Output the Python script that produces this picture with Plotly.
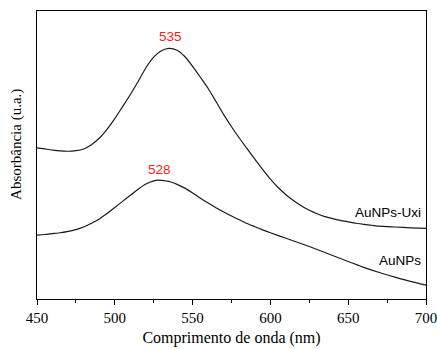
import plotly.graph_objects as go

wavelength = [450, 455, 460, 465, 470, 475, 480, 485, 490, 495, 500, 505, 510, 515, 520, 525,
              530, 535, 540, 545, 550, 555, 560, 565, 570, 575, 580, 585, 590, 595, 600, 605,
              610, 615, 620, 625, 630, 635, 640, 645, 650, 655, 660, 665, 670, 675, 680, 690, 700]
abs_uxi = [0.525, 0.521, 0.517, 0.514, 0.513, 0.515, 0.521, 0.536, 0.558, 0.589, 0.626, 0.668,
           0.710, 0.755, 0.803, 0.840, 0.862, 0.870, 0.864, 0.842, 0.808, 0.770, 0.731, 0.686,
           0.640, 0.598, 0.559, 0.522, 0.486, 0.450, 0.416, 0.387, 0.362, 0.341, 0.323, 0.308,
           0.296, 0.286, 0.279, 0.273, 0.268, 0.263, 0.259, 0.256, 0.253, 0.251, 0.250, 0.247, 0.245]

wavelength2 = [450, 455, 460, 465, 470, 475, 480, 485, 490, 495, 500, 505, 510, 515, 520, 525,
               528, 530, 535, 540, 545, 550, 555, 560, 565, 570, 575, 580, 585, 590, 595, 600,
               610, 620, 630, 640, 650, 660, 670, 680, 690, 700]
abs_np = [0.222, 0.224, 0.227, 0.230, 0.235, 0.241, 0.250, 0.263, 0.278, 0.297, 0.318, 0.339,
          0.360, 0.381, 0.399, 0.410, 0.413, 0.412, 0.408, 0.398, 0.385, 0.368, 0.350, 0.333,
          0.317, 0.302, 0.288, 0.275, 0.262, 0.251, 0.240, 0.230, 0.211, 0.192, 0.172, 0.151,
          0.130, 0.110, 0.092, 0.076, 0.061, 0.048]

peak_labels = ["535", "528"]
peak_x = [536, 529]
peak_y = [0.91, 0.448]
series_labels = ["AuNPs-Uxi", "AuNPs"]
series_label_y = [0.299, 0.132]

fig = go.Figure()
fig.add_trace(go.Scatter(x=wavelength, y=abs_uxi, mode="lines",
                         line=dict(color="#1a1a1a", width=1.2, shape="spline", smoothing=0.6),
                         showlegend=False, hoverinfo="skip"))
fig.add_trace(go.Scatter(x=wavelength2, y=abs_np, mode="lines",
                         line=dict(color="#1a1a1a", width=1.2, shape="spline", smoothing=0.6),
                         showlegend=False, hoverinfo="skip"))

for t, x, y in zip(peak_labels, peak_x, peak_y):
    fig.add_annotation(x=x, y=y, text=t, showarrow=False, xanchor="center", yanchor="middle",
                       font=dict(family="Liberation Sans, Arial", size=13.5, color="#ff1a1a"))
for t, y in zip(series_labels, series_label_y):
    fig.add_annotation(x=698, y=y, text=t, showarrow=False, xanchor="right", yanchor="middle",
                       font=dict(family="Liberation Sans, Arial", size=13.5, color="#000000"))

serif = "Liberation Serif, Times New Roman, serif"
# y-axis title as a rotated annotation so it can sit slightly above centre like the reference
fig.add_annotation(xref="paper", yref="paper", x=-0.0514, y=0.535, text="Absorbância (u.a.)",
                   textangle=-90, showarrow=False, xanchor="center", yanchor="middle",
                   font=dict(family=serif, size=15, color="black"))

fig.update_layout(
    width=437, height=349,
    margin=dict(l=37, r=11, t=11, b=50, autoexpand=False),
    paper_bgcolor="white", plot_bgcolor="white",
    xaxis=dict(range=[450, 700], tickvals=[450, 500, 550, 600, 650, 700], automargin=False,
               ticklabeloverflow="allow",
               ticks="outside", ticklen=5, tickcolor="black", tickwidth=1,
               minor=dict(tickvals=[475, 525, 575, 625, 675], ticks="outside", ticklen=3, tickcolor="black"),
               showline=True, linecolor="black", linewidth=1, mirror=True, showgrid=False, zeroline=False,
               tickfont=dict(family=serif, size=15, color="black"),
               title=dict(text="Comprimento de onda (nm)", font=dict(family=serif, size=16, color="black"), standoff=6)),
    yaxis=dict(range=[0, 1], showticklabels=False, ticks="", automargin=False,
               showline=True, linecolor="black", linewidth=1, mirror=True, showgrid=False, zeroline=False),
)

fig.write_html("out.html", config={"displayModeBar": False},
               post_script="document.body.style.margin='0';")
